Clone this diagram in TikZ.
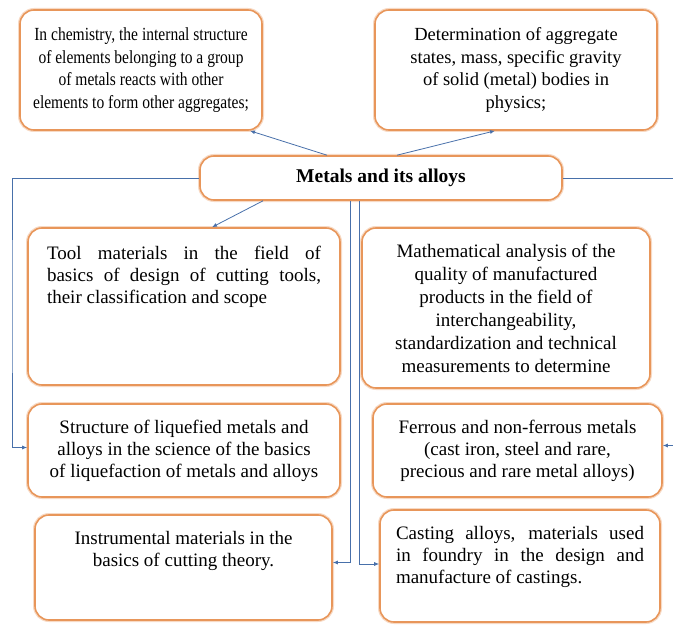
\documentclass[tikz,border=0pt]{standalone}
\usepackage{fontspec}
\setmainfont{Liberation Serif}
\newfontfamily\narrowserif[FakeStretch=0.84]{Liberation Serif}
\usetikzlibrary{arrows.meta}
\definecolor{boxorange}{RGB}{232,150,90}
\definecolor{linkblue}{RGB}{72,112,170}
\newcommand{\topicfont}{\fontsize{19}{22}\selectfont}
\newcommand{\narrowtopicfont}{\narrowserif\fontsize{18.5}{22.5}\selectfont}
\newcommand{\titlefont}{\fontsize{19.5}{22}\selectfont\bfseries}
\newcommand{\topbox}[3]{\parbox[c][#1][t]{#2}{#3}}
\newcommand{\fullline}[1]{\makebox[\linewidth][s]{#1}}
\tikzstyle{topic}=[draw=boxorange, line width=1.6pt, rounded corners=14pt, fill=white, align=center, inner sep=0pt, font=\topicfont, preaction={draw=boxorange!35, line width=4pt}]
\tikzstyle{link}=[draw=linkblue, line width=0.8pt, -{Latex[length=5pt,width=4pt]}]

\begin{document}
\begin{tikzpicture}[x=1pt, y=-1pt]
    \useasboundingbox (0,0) rectangle (673,626);

    % top row
    \node[topic, minimum width=242pt, minimum height=120pt, font=\narrowtopicfont] (chem) at (141,70)
        {In chemistry, the internal structure\\of elements belonging to a group\\of metals reacts with other\\elements to form other aggregates;};
    \node[topic, minimum width=282pt, minimum height=120pt, font=\fontsize{18.5}{22.5}\selectfont] (phys) at (516,70)
        {Determination of aggregate\\states, mass, specific gravity\\of solid (metal) bodies in\\physics;};

    % centre
    \node[topic, minimum width=362pt, minimum height=44pt, font=\titlefont] (metals) at (381,178) {Metals and its alloys};

    % left column
    \node[topic, minimum width=312pt, minimum height=157pt] (tool) at (184,306.5)
        {\topbox{121pt}{274pt}{\fullline{Tool materials in the field of}\\\fullline{basics of design of cutting tools,}\\their classification and scope}};
    \node[topic, minimum width=312pt, minimum height=93pt] (liq) at (184,450.5)
        {Structure of liquefied metals and\\alloys in the science of the basics\\of liquefaction of metals and alloys};
    \node[topic, minimum width=297pt, minimum height=105pt] (instr) at (183.5,567.5)
        {\topbox{73pt}{260pt}{\centering Instrumental materials in the\\basics of cutting theory.}};

    % right column
    \node[topic, minimum width=288pt, minimum height=160pt, font=\fontsize{19}{23}\selectfont] (math) at (506,308)
        {Mathematical analysis of the\\quality of manufactured\\products in the field of\\interchangeability,\\standardization and technical\\measurements to determine};
    \node[topic, minimum width=289pt, minimum height=93pt] (ferr) at (517.5,450.5)
        {Ferrous and non-ferrous metals\\(cast iron, steel and rare,\\precious and rare metal alloys)};
    \node[topic, minimum width=280pt, minimum height=112pt] (cast) at (520,566)
        {\topbox{80pt}{248pt}{\fullline{Casting alloys, materials used}\\\fullline{in foundry in the design and}\\manufacture of castings.}};

    % bends of the side connectors
    \coordinate (lbend) at (12,300);
    \coordinate (rbend) at (676,300);

    % connectors
    \path[link] ([xshift=-54pt]metals.north) -- ([xshift=109pt]chem.south);
    \path[link] ([xshift=16pt]metals.north) -- ([xshift=-21pt]phys.south);
    \path[link] ([xshift=-118pt]metals.south) -- ([xshift=28pt]tool.north);
    \path[link] (metals.west) -| (lbend) |- ([yshift=3pt]liq.west);
    \path[link] (metals.east) -| (rbend) |- ([yshift=5pt]ferr.east);
    \path[link] ([xshift=-31pt]metals.south) |- ([yshift=5pt]instr.east);
    \path[link] ([xshift=-22pt]metals.south) |- ([yshift=2pt]cast.west);
\end{tikzpicture}
\end{document}
